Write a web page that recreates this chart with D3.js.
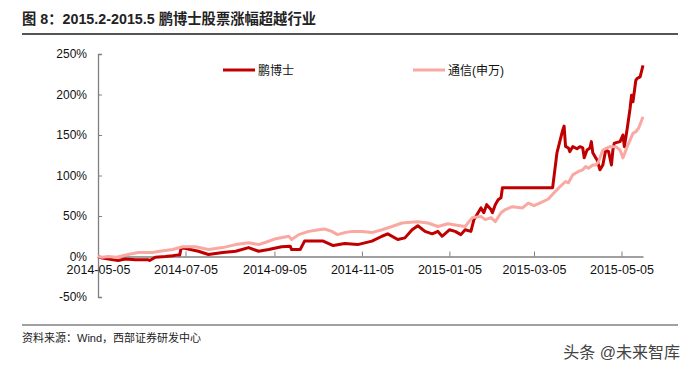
<!DOCTYPE html>
<html><head><meta charset="utf-8">
<script src="https://cdn.jsdelivr.net/npm/d3@7"></script>
<style>
html,body{margin:0;padding:0;background:#fff;}
svg{display:block;font-family:"Liberation Sans",Arial,"Noto Sans CJK SC",sans-serif;}
</style></head>
<body>
<svg id="c" width="696" height="368"></svg>
<script>
const title = "图 8：2015.2-2015.5 鹏博士股票涨幅超越行业";
const source = "资料来源：Wind，西部证券研发中心";
const watermark = "头条 @未来智库";
const seriesNames = ["鹏博士", "通信(申万)"];
const xTickLabels = ["2014-05-05","2014-07-05","2014-09-05","2014-11-05","2015-01-05","2015-03-05","2015-05-05"];
const yTickValues = [-50, 0, 50, 100, 150, 200, 250];

// 鹏博士 cumulative change (%)
const pbsDates = ["2014-05-05","2014-05-08","2014-05-19","2014-05-24","2014-05-31","2014-06-09","2014-06-10","2014-06-14","2014-06-21","2014-06-26","2014-06-30","2014-07-01","2014-07-02","2014-07-10","2014-07-14","2014-07-21","2014-07-31","2014-08-09","2014-08-18","2014-08-25","2014-09-01","2014-09-10","2014-09-16","2014-09-17","2014-09-23","2014-09-26","2014-10-09","2014-10-16","2014-10-24","2014-11-02","2014-11-12","2014-11-19","2014-11-23","2014-11-30","2014-12-05","2014-12-10","2014-12-14","2014-12-19","2014-12-24","2014-12-28","2014-12-31","2015-01-05","2015-01-09","2015-01-13","2015-01-16","2015-01-20","2015-01-22","2015-01-27","2015-01-29","2015-01-31","2015-02-03","2015-02-04","2015-02-06","2015-02-08","2015-02-10","2015-02-11","2015-03-18","2015-03-21","2015-03-25","2015-03-26","2015-03-27","2015-03-29","2015-03-30","2015-04-01","2015-04-04","2015-04-06","2015-04-08","2015-04-09","2015-04-11","2015-04-13","2015-04-14","2015-04-15","2015-04-17","2015-04-18","2015-04-20","2015-04-22","2015-04-24","2015-04-26","2015-04-28","2015-04-29","2015-04-30","2015-05-04","2015-05-06","2015-05-07","2015-05-09","2015-05-11","2015-05-12","2015-05-13","2015-05-15","2015-05-16","2015-05-18","2015-05-20"];
const pbsValues = [0,-2,-5,-3,-4,-4,-5,-1,0,1,2,2,11,8,6.5,2.5,5,6.5,11,6.5,8.6,12,12.7,8.6,8.6,19,19,13.5,16,14.7,19,25,28,21,23,33,38,31,28,31,25,33,31,27,33,31,45,60,54,64,58,54,64,70,72.5,85,85,128,156,161,136,134,129.5,135.6,133,135.6,134,122,131.5,134,141.8,128,122,119,107,113,131.5,129.5,113,131.5,140,141.8,150,135.6,158,183,199,191,217.6,220,221.7,236];

// 通信(申万) cumulative change (%)
const txDates = ["2014-05-05","2014-05-08","2014-05-12","2014-05-18","2014-05-26","2014-06-02","2014-06-12","2014-06-17","2014-06-26","2014-07-03","2014-07-12","2014-07-21","2014-07-31","2014-08-09","2014-08-18","2014-08-25","2014-08-30","2014-09-06","2014-09-15","2014-09-17","2014-09-22","2014-09-29","2014-10-06","2014-10-10","2014-10-15","2014-10-19","2014-10-24","2014-10-29","2014-11-05","2014-11-12","2014-11-19","2014-11-26","2014-12-03","2014-12-07","2014-12-14","2014-12-21","2014-12-28","2015-01-04","2015-01-09","2015-01-16","2015-01-21","2015-01-27","2015-01-30","2015-02-03","2015-02-06","2015-02-10","2015-02-13","2015-02-18","2015-02-25","2015-03-01","2015-03-05","2015-03-09","2015-03-15","2015-03-19","2015-03-23","2015-03-27","2015-03-29","2015-04-01","2015-04-05","2015-04-08","2015-04-10","2015-04-12","2015-04-15","2015-04-17","2015-04-19","2015-04-22","2015-04-25","2015-04-27","2015-05-01","2015-05-04","2015-05-06","2015-05-09","2015-05-13","2015-05-15","2015-05-17","2015-05-20"];
const txValues = [0,-1,0,-1,2.5,5,5,6.5,8.6,12,12,8.6,11,14.7,17,14.7,17.6,22,25,21,27,31,33,34,31,27,29.5,31,31,29.5,33,37,41.4,42,43,41.4,37,40.5,39,37,48,49.5,45.5,48,43,54,58,61.5,60,66,62.7,66,71,78.7,86,92.6,91,100.8,105,107,111,109,113,113,117,131.5,134,135.6,135.6,131.5,121.7,135.6,152,154,158.6,172.5];

const parse = d3.timeParse("%Y-%m-%d");
const svg = d3.select("#c");

const x = d3.scaleTime().domain([parse("2014-05-05"), parse("2015-05-20")]).range([98, 643]);
const y = d3.scaleLinear().domain([-50, 250]).range([297, 54]);

// title and rules
svg.append("text").attr("x", 22).attr("y", 24).attr("font-size", 14.3).attr("font-weight", "bold").attr("fill", "#222").text(title);
svg.append("line").attr("x1", 22).attr("x2", 678).attr("y1", 34).attr("y2", 34).attr("stroke", "#555").attr("stroke-width", 1.8);
svg.append("line").attr("x1", 22).attr("x2", 678).attr("y1", 325).attr("y2", 325).attr("stroke", "#444").attr("stroke-width", 1.2);
svg.append("text").attr("x", 22).attr("y", 342).attr("font-size", 11).attr("fill", "#222").text(source);
svg.append("text").attr("x", 680).attr("y", 358).attr("text-anchor", "end").attr("font-size", 16).attr("fill", "#444").text(watermark);

// y axis
const yAxis = d3.axisLeft(y).tickValues(yTickValues).tickSize(-4).tickPadding(11).tickFormat(d => d + "%");
const gy = svg.append("g").attr("transform", "translate(98,0)").call(yAxis);
gy.select(".domain").attr("stroke", "#808080").attr("stroke-width", 1.3);
gy.selectAll(".tick line").attr("stroke", "#808080");
gy.selectAll("text").attr("font-size", 12).attr("fill", "#111").attr("font-family", "Liberation Sans, Arial, sans-serif");

// x axis at 0%
const xAxis = d3.axisBottom(x).tickValues(xTickLabels.map(parse)).tickSize(-5).tickSizeOuter(0).tickPadding(9).tickFormat(d3.timeFormat("%Y-%m-%d"));
const gx = svg.append("g").attr("transform", `translate(0,${y(0)})`).call(xAxis);
gx.select(".domain").attr("stroke", "#808080").attr("stroke-width", 1.3);
gx.selectAll(".tick line").attr("stroke", "#808080");
gx.selectAll("text").attr("font-size", 12.5).attr("fill", "#111").attr("font-family", "Liberation Sans, Arial, sans-serif");

const line = d3.line().x(d => x(d[0])).y(d => y(d[1]));
const pbs = pbsDates.map((d, i) => [parse(d), pbsValues[i]]);
const tx = txDates.map((d, i) => [parse(d), txValues[i]]);

svg.append("path").datum(pbs).attr("d", line).attr("fill", "none").attr("stroke", "#C00000").attr("stroke-width", 3).attr("stroke-linejoin", "round");
svg.append("path").datum(tx).attr("d", line).attr("fill", "none").attr("stroke", "#F9A8A2").attr("stroke-width", 3).attr("stroke-linejoin", "round");

// legend
const legend = [
  {name: seriesNames[0], color: "#C00000", x: 223},
  {name: seriesNames[1], color: "#F9A8A2", x: 413}
];
legend.forEach(l => {
  svg.append("line").attr("x1", l.x).attr("x2", l.x + 32).attr("y1", 70).attr("y2", 70).attr("stroke", l.color).attr("stroke-width", 3);
  svg.append("text").attr("x", l.x + 35).attr("y", 74.5).attr("font-size", 12).attr("fill", "#111").text(l.name);
});
</script>
</body></html>
